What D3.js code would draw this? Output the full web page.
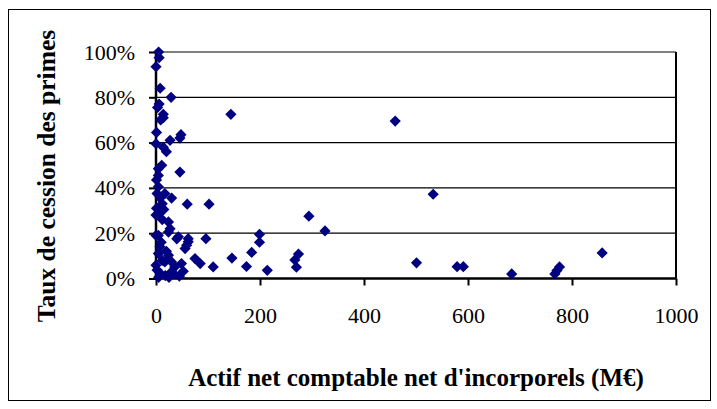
<!DOCTYPE html>
<html>
<head>
<meta charset="utf-8">
<script src="https://cdn.jsdelivr.net/npm/d3@7"></script>
<style>
  html, body { margin: 0; padding: 0; background: #fff; }
  svg { display: block; }
  svg text { font-family: "Liberation Serif", "Times New Roman", Times, "DejaVu Serif", serif; }
</style>
</head>
<body>
<svg id="chart" width="717" height="409"></svg>
<script>
// Actif net comptable net d'incorporels (M€)
const actifNet = [
  5, 6, 0, 8, 29, 6, 3, 14, 14, 9, 1, 48, 46, 27, 0, 14, 20, 11, 4.5, 46,
  4.5, 1, 4.5, 2, 17, 8, 30, 12, 60, 102, 1, 15, 8, 0, 12, 24, 27, 4.5, 0, 24,
  40, 43, 62, 96, 62, 59, 56, 7.7, 4.5, 24, 30, 17, 75, 85, 110, 49, 52.5, 0, 36, 2,
  8, 18, 25, 5, 30, 12, 20, 10, 35, 45,
  144, 460, 533, 294, 325, 199, 199, 184, 146, 174, 214, 274, 267, 270, 501, 579, 591, 684, 767, 771, 776, 858
];
// Taux de cession des primes (%)
const tauxCession = [
  100, 97.5, 93.5, 84, 80, 77, 75.5, 72.5, 71, 70, 64.5, 63.5, 62, 61, 59.5, 58, 56, 50, 48.5, 47,
  45.5, 43.5, 40.5, 37.5, 37.5, 35.5, 35.5, 33, 32.8, 32.8, 31, 30.5, 29, 28, 26, 25, 22, 19, 19, 20.5,
  17.5, 18.4, 17.6, 17.6, 16.2, 14.7, 13.2, 14, 11, 10.3, 7.3, 7.3, 8.8, 6.6, 5.1, 6.6, 3.2, 5.9, 5.1, 3.7,
  2.3, 1.3, 0.5, 0.5, 3, 8, 12, 16, 2, 1,
  72.5, 69.5, 37.2, 27.5, 21, 19.5, 16, 11.5, 9, 5.3, 3.6, 10.8, 8.2, 5, 6.9, 5.2, 5.2, 2, 2, 3.5, 5.1, 11.3
];
const xTicks = [0, 200, 400, 600, 800, 1000];
const yTicks = [0, 20, 40, 60, 80, 100];
const xTitle = "Actif net comptable net d'incorporels (M€)";
const yTitle = "Taux de cession des primes";

const points = actifNet.map((v, i) => ({ x: v, y: tauxCession[i] }));

const svg = d3.select("#chart");
const plot = { left: 156, right: 676, top: 52, bottom: 278.5 };

const x = d3.scaleLinear().domain([0, 1000]).range([plot.left, plot.right]);
const y = d3.scaleLinear().domain([0, 100]).range([plot.bottom, plot.top]);

// outer chart border
svg.append("rect")
  .attr("x", 8.5).attr("y", 9.5)
  .attr("width", 702).attr("height", 391)
  .attr("fill", "#fff").attr("stroke", "#000").attr("stroke-width", 1);

// gridlines
svg.append("g").selectAll("line")
  .data(yTicks.filter(d => d > 0))
  .join("line")
  .attr("x1", plot.left).attr("x2", plot.right)
  .attr("y1", d => y(d)).attr("y2", d => y(d))
  .attr("stroke", "#000").attr("stroke-width", 1.2);

// right border of plot area
svg.append("line")
  .attr("x1", plot.right).attr("x2", plot.right)
  .attr("y1", plot.top).attr("y2", plot.bottom)
  .attr("stroke", "#000").attr("stroke-width", 2);

// axes
const xAxis = d3.axisBottom(x).tickValues(xTicks).tickSize(7).tickPadding(22)
  .tickFormat(d3.format("d"));
const yAxis = d3.axisLeft(y).tickValues(yTicks).tickSize(7).tickPadding(14)
  .tickFormat(d => d + "%");

const gx = svg.append("g").attr("transform", `translate(0,${plot.bottom})`).call(xAxis);
const gy = svg.append("g").attr("transform", `translate(${plot.left},0)`).call(yAxis);

[gx, gy].forEach(g => {
  g.attr("font-family", null);
  g.select(".domain").attr("stroke", "#000").attr("stroke-width", 2.5);
  g.selectAll(".tick line").attr("stroke", "#000").attr("stroke-width", 2);
  g.selectAll(".tick text").attr("font-size", 22).attr("fill", "#000");
});
gx.select(".domain").attr("d", `M${plot.left},0H${plot.right}`);
gy.select(".domain").attr("d", `M0,${plot.bottom}V${plot.top}`);

// markers
const r = 5.6;
svg.append("g").selectAll("path")
  .data(points)
  .join("path")
  .attr("transform", d => `translate(${x(d.x)},${y(d.y)})`)
  .attr("d", `M0,${-r}L${r},0L0,${r}L${-r},0Z`)
  .attr("fill", "#000080");

// axis titles
svg.append("text")
  .attr("x", (plot.left + plot.right) / 2).attr("y", 386)
  .attr("text-anchor", "middle")
  .attr("font-weight", "bold").attr("font-size", 25)
  .attr("fill", "#000")
  .text(xTitle);

svg.append("text")
  .attr("transform", `translate(55,176) rotate(-90)`)
  .attr("text-anchor", "middle")
  .attr("font-weight", "bold").attr("font-size", 25.5)
  .attr("fill", "#000")
  .text(yTitle);
</script>
</body>
</html>
